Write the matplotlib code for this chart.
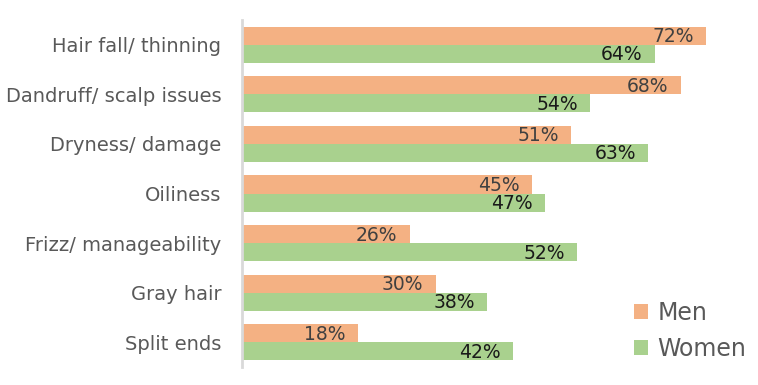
import matplotlib.pyplot as plt
import numpy as np

categories = ["Hair fall/ thinning", "Dandruff/ scalp issues", "Dryness/ damage",
              "Oiliness", "Frizz/ manageability", "Gray hair", "Split ends"]
men = [72, 68, 51, 45, 26, 30, 18]
women = [64, 54, 63, 47, 52, 38, 42]

men_color = "#F4B183"
women_color = "#A9D18E"

plt.rcParams['font.family'] = ['DejaVu Sans']

fig = plt.figure(figsize=(7.58, 3.85), dpi=100)
ax = fig.add_axes([242/758, 18/385, 1 - 242/758, 347/385])

y = np.arange(len(categories))
h = 0.365
bars_m = ax.barh(y - h/2, men, height=h, color=men_color, label="Men")
bars_w = ax.barh(y + h/2, women, height=h, color=women_color, label="Women")

for b, v in zip(bars_m, men):
    ax.text(b.get_width() - 1.9, b.get_y() + b.get_height()/2 + 0.02, f"{v}%",
            ha="right", va="center", fontsize=13.5, color="#404040")
for b, v in zip(bars_w, women):
    ax.text(b.get_width() - 1.9, b.get_y() + b.get_height()/2 + 0.02, f"{v}%",
            ha="right", va="center", fontsize=13.5, color="#1a1a1a")

ax.set_xlim(0, 80)
ax.set_ylim(len(categories) - 0.5, -0.5)
ax.set_yticks(y)
ax.set_yticklabels(categories, fontsize=14, color="#595959")
ax.tick_params(axis="y", length=0, pad=15)
ax.set_xticks([])
for s in ["top", "right", "bottom"]:
    ax.spines[s].set_visible(False)
ax.spines["left"].set_color("#d9d9d9")
ax.spines["left"].set_linewidth(2)

leg = ax.legend(loc="lower right", bbox_to_anchor=(1.0, -0.017), frameon=False,
                fontsize=17, handlelength=0.6, handleheight=0.6, handletextpad=0.4,
                labelspacing=0.5, borderaxespad=0.1)
for t in leg.get_texts():
    t.set_color("#595959")

fig.savefig("out.png", dpi=100)
